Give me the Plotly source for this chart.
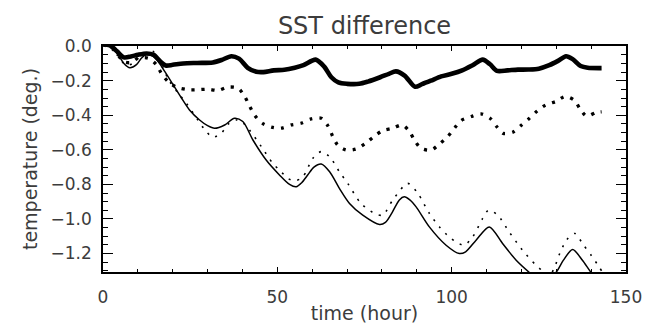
import plotly.graph_objects as go

# ---- data ----
t_thick_solid = [0, 2, 4, 6, 8, 10, 12.5, 14.5, 16.5, 18, 20, 23, 27, 31.5, 34, 36.8, 39, 41.5, 44, 46,
                 49, 52, 55, 57.5, 61, 63.5, 65.5, 67.5, 70, 73.5, 76, 79.5, 82, 84, 86.5, 89.5, 91.5, 94,
                 97, 100, 103, 106, 108.9, 111, 113, 116, 119, 122, 125, 128, 130.5, 132.8, 134.7, 137,
                 139, 143]
v_thick_solid = [0.01, 0.005, -0.03, -0.065, -0.06, -0.05, -0.042, -0.05, -0.09, -0.112, -0.108, -0.100,
                 -0.097, -0.094, -0.08, -0.058, -0.072, -0.125, -0.148, -0.150, -0.140, -0.137, -0.125,
                 -0.11, -0.078, -0.12, -0.18, -0.21, -0.218, -0.218, -0.205, -0.18, -0.16, -0.146, -0.17,
                 -0.235, -0.22, -0.20, -0.175, -0.16, -0.14, -0.11, -0.078, -0.105, -0.143, -0.14, -0.136,
                 -0.135, -0.13, -0.11, -0.085, -0.058, -0.075, -0.115, -0.125, -0.127]

t_thick_dot = [0, 3, 6, 8, 10, 13, 15.3, 16.7, 18.6, 21, 24.4, 27.2, 30, 33, 35.8, 38.7, 40.6, 42, 43.5,
               45.7, 48.3, 51, 54, 56.8, 59.7, 62.6, 64.5, 65.9, 67.3, 69.7, 72.6, 75.3, 77.7, 80.2, 83.1,
               85.8, 87.9, 89.3, 91.2, 94.1, 96.5, 98.9, 100.8, 102.7, 105.6, 108.4, 111, 112.9, 114.8,
               117.5, 119.9, 122.3, 124.6, 127, 129.9, 132.6, 135.2, 136.9, 138.7, 141.4, 143]
v_thick_dot = [0.01, -0.02, -0.09, -0.095, -0.07, -0.07, -0.107, -0.156, -0.204, -0.237, -0.252, -0.252,
               -0.249, -0.256, -0.237, -0.243, -0.29, -0.345, -0.40, -0.446, -0.469, -0.475, -0.456,
               -0.446, -0.421, -0.417, -0.461, -0.523, -0.572, -0.601, -0.595, -0.562, -0.523, -0.489,
               -0.475, -0.456, -0.494, -0.543, -0.591, -0.601, -0.566, -0.523, -0.475, -0.43, -0.407,
               -0.392, -0.417, -0.465, -0.505, -0.498, -0.459, -0.417, -0.374, -0.34, -0.32, -0.291,
               -0.314, -0.365, -0.405, -0.384, -0.38]

t_thin_solid = [0, 2, 4, 6, 7.7, 9.6, 11, 12.4, 14, 15.5, 17.7, 20.1, 22.5, 24.8, 27.7, 30, 32, 34.9, 37.7,
                40.1, 43, 46.8, 50.6, 53.5, 55.4, 57, 58.7, 60.5, 62.6, 65, 67.8, 70.7, 74.5, 79.3, 81,
                83, 85, 86.4, 88, 89.8, 93.6, 98.4, 102.2, 104, 107, 110.8, 114.6, 118.5, 122.3, 126,
                129.9, 132, 134.7, 137.5, 140, 143]
v_thin_solid = [0.01, 0.0, -0.04, -0.10, -0.125, -0.107, -0.07, -0.049, -0.055, -0.08, -0.146, -0.223,
                -0.30, -0.369, -0.427, -0.46, -0.475, -0.456, -0.417, -0.436, -0.543, -0.659, -0.745,
                -0.80, -0.814, -0.79, -0.746, -0.70, -0.682, -0.727, -0.823, -0.91, -0.978, -1.032,
                -1.02, -0.96, -0.89, -0.872, -0.89, -0.93, -1.046, -1.152, -1.20, -1.19, -1.123, -1.046,
                -1.142, -1.239, -1.31, -1.37, -1.31, -1.24, -1.177, -1.239, -1.31, -1.38]

t_thin_dot = [0, 2, 4, 6, 7.5, 9.5, 12, 14.3, 16, 17.5, 19.1, 21.5, 23.9, 27.2, 29.1, 31.5, 33.9, 36,
              38.2, 40, 42, 45.4, 48.7, 51.1, 53, 55, 57.3, 60.2, 62.6, 65, 67.8, 70.2, 74, 77.9, 80.2,
              83.1, 87.4, 90.3, 93.6, 96.5, 99.3, 101.3, 103.6, 106, 108.9, 110.6, 113.2, 116.5, 120.3,
              124.2, 126, 128, 129.5, 131, 133, 135.4, 137.5, 140, 142.3, 143]
v_thin_dot = [0.01, 0.0, -0.05, -0.10, -0.11, -0.08, -0.04, -0.03, -0.08, -0.14, -0.204, -0.27, -0.33,
              -0.427, -0.481, -0.527, -0.504, -0.45, -0.427, -0.44, -0.485, -0.581, -0.678, -0.727,
              -0.765, -0.78, -0.756, -0.649, -0.61, -0.64, -0.727, -0.794, -0.91, -0.968, -0.978, -0.891,
              -0.794, -0.852, -0.968, -1.046, -1.104, -1.133, -1.152, -1.104, -0.997, -0.949, -0.978,
              -1.075, -1.181, -1.268, -1.30, -1.33, -1.28, -1.20, -1.12, -1.084, -1.142, -1.21, -1.278,
              -1.30]

x_tick_vals = [0, 50, 100, 150]
x_tick_text = ["0", "50", "100", "150"]
y_tick_vals = [0.0, -0.2, -0.4, -0.6, -0.8, -1.0, -1.2]
y_tick_text = ["0.0", "\u22120.2", "\u22120.4", "\u22120.6", "\u22120.8", "\u22121.0", "\u22121.2"]

FONT = "DejaVu Sans"
TXT = "#3c3c3c"

fig = go.Figure()
fig.add_trace(go.Scatter(x=t_thin_dot, y=v_thin_dot, mode="lines",
                         line=dict(color="black", width=1.6, dash="2px,7px", shape="spline", smoothing=0.8)))
fig.add_trace(go.Scatter(x=t_thin_solid, y=v_thin_solid, mode="lines",
                         line=dict(color="black", width=1.5, shape="spline", smoothing=0.8)))
fig.add_trace(go.Scatter(x=t_thick_dot, y=v_thick_dot, mode="lines",
                         line=dict(color="black", width=3.3, dash="3px,7px", shape="spline", smoothing=0.8)))
fig.add_trace(go.Scatter(x=t_thick_solid, y=v_thick_solid, mode="lines",
                         line=dict(color="black", width=4.6, shape="spline", smoothing=0.8)))

fig.update_layout(
    width=657, height=331,
    margin=dict(l=103, r=31, t=46, b=59, autoexpand=False),
    paper_bgcolor="white", plot_bgcolor="white",
    showlegend=False,
    font=dict(family=FONT, color=TXT, size=17),
    title=dict(text="SST difference", x=0.5, xref="paper", xanchor="center",
               y=1 - 26 / 331, yref="container", yanchor="middle", automargin=False,
               font=dict(family=FONT, size=24, color=TXT)),
)

fig.update_xaxes(
    range=[0, 150], showgrid=False, zeroline=False, automargin=False,
    showline=True, linecolor="black", linewidth=1.5, mirror="ticks",
    ticks="inside", ticklen=5, tickwidth=1.2, tickcolor="black",
    tickvals=x_tick_vals, ticktext=x_tick_text, ticklabelstandoff=9,
    tickfont=dict(family=FONT, size=17, color=TXT),
    minor=dict(dtick=10, tick0=0, ticks="inside", ticklen=3, tickwidth=1, tickcolor="black", showgrid=False),
    title=dict(text="time (hour)", font=dict(family=FONT, size=19, color=TXT), standoff=1),
)
fig.update_yaxes(
    range=[-1.307, 0.001], showgrid=False, zeroline=False, automargin=False,
    showline=True, linecolor="black", linewidth=1.5, mirror="ticks",
    ticks="inside", ticklen=10, tickwidth=1.2, tickcolor="black",
    tickvals=y_tick_vals, ticktext=y_tick_text, ticklabelstandoff=6,
    tickfont=dict(family=FONT, size=17, color=TXT),
    minor=dict(dtick=0.05, tick0=0, ticks="inside", ticklen=5, tickwidth=1, tickcolor="black", showgrid=False),
    title=dict(text="temperature (deg.)", font=dict(family=FONT, size=19, color=TXT), standoff=8),
)

fig.write_html("out.html")
